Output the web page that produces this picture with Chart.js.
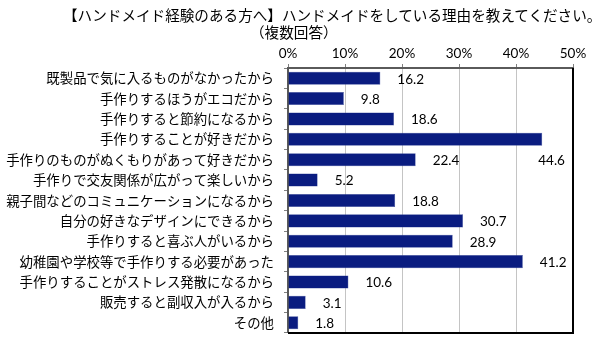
<!DOCTYPE html>
<html>
<head>
<meta charset="utf-8">
<script src="https://cdn.jsdelivr.net/npm/chart.js@4/dist/chart.umd.min.js"></script>
<style>
  body { margin: 0; background: #fff; }
  #wrap { position: relative; width: 600px; height: 351px; }
  .ttl { position: absolute; font-family: "Noto Sans CJK JP", sans-serif; font-size: 14.6px; line-height: 18px; color: #000; white-space: nowrap; }
  #title { left: 63px; top: 6px; }
  #sub { left: 250px; top: 23px; }
  canvas { position: absolute; left: 0; top: 0; }
</style>
</head>
<body>
<div id="wrap">
  <canvas id="chart" width="600" height="351"></canvas>
  <div class="ttl" id="title">【ハンドメイド経験のある方へ】ハンドメイドをしている理由を教えてください。</div>
  <div class="ttl" id="sub">（複数回答）</div>
</div>
<script>
// 理由（回答項目）
const reasons = [
    '既製品で気に入るものがなかったから',
    '手作りするほうがエコだから',
    '手作りすると節約になるから',
    '手作りすることが好きだから',
    '手作りのものがぬくもりがあって好きだから',
    '手作りで交友関係が広がって楽しいから',
    '親子間などのコミュニケーションになるから',
    '自分の好きなデザインにできるから',
    '手作りすると喜ぶ人がいるから',
    '幼稚園や学校等で手作りする必要があった',
    '手作りすることがストレス発散になるから',
    '販売すると副収入が入るから',
    'その他'
];
// 割合（%）
const percents = [16.2, 9.8, 18.6, 44.6, 22.4, 5.2, 18.8, 30.7, 28.9, 41.2, 10.6, 3.1, 1.8];
const axisTicks = [0, 10, 20, 30, 40, 50];

const barColor = '#0a1c80';
const jpFont = '"Noto Sans CJK JP", sans-serif';
const numFont = 'Lato, "Noto Sans CJK JP", sans-serif';

// 値ラベル（一番長いバーのラベルは元の図と同じく下の行にずらす）
const valueLabels = {
    id: 'valueLabels',
    afterDatasetsDraw(chart) {
        const ctx = chart.ctx;
        const meta = chart.getDatasetMeta(0);
        const maxIdx = percents.indexOf(Math.max(...percents));
        const rowH = chart.scales.y.getPixelForValue(1) - chart.scales.y.getPixelForValue(0);
        ctx.save();
        ctx.font = '13.5px ' + numFont;
        ctx.fillStyle = '#000';
        ctx.textBaseline = 'middle';
        ctx.textAlign = 'left';
        meta.data.forEach((bar, i) => {
            let x = bar.x + 17;
            let y = bar.y + 1;
            if (i === maxIdx) {
                x = bar.x - 4;
                y = bar.y + rowH + 1;
            }
            ctx.fillText(percents[i].toFixed(1), x, y);
        });
        ctx.restore();
    }
};

// 右と下の黒い枠線
const plotFrame = {
    id: 'plotFrame',
    afterDraw(chart) {
        const a = chart.chartArea;
        const ctx = chart.ctx;
        ctx.save();
        ctx.strokeStyle = '#000';
        ctx.lineWidth = 2;
        ctx.beginPath();
        ctx.moveTo(a.left, a.bottom);
        ctx.lineTo(a.right, a.bottom);
        ctx.lineTo(a.right, a.top);
        ctx.stroke();
        ctx.restore();
    }
};

new Chart(document.getElementById('chart'), {
    type: 'bar',
    data: {
        labels: reasons,
        datasets: [{
            data: percents,
            backgroundColor: barColor,
            borderColor: '#3a4a9a',
            borderWidth: 0.5,
            barPercentage: 0.8,
            categoryPercentage: 0.8
        }]
    },
    options: {
        indexAxis: 'y',
        responsive: false,
        animation: false,
        layout: { padding: { top: 40, right: 27, bottom: 11, left: 0 } },
        plugins: {
            legend: { display: false },
            tooltip: { enabled: false }
        },
        scales: {
            x: {
                position: 'top',
                min: axisTicks[0],
                max: axisTicks[axisTicks.length - 1],
                afterBuildTicks: s => { s.ticks = axisTicks.map(v => ({ value: v })); },
                afterFit: s => { s.height = 28; },
                ticks: {
                    padding: 2,
                    color: '#000',
                    font: { family: numFont, size: 13.5 },
                    callback: v => v + '%'
                },
                grid: { color: '#c4c4c4', tickColor: '#808080', tickLength: 4 },
                border: { color: '#5a5a5a', width: 2 }
            },
            y: {
                afterFit: s => { s.width = 288; },
                ticks: {
                    padding: 10,
                    color: '#000',
                    font: { family: jpFont, size: 13.4 },
                    autoSkip: false
                },
                grid: { drawOnChartArea: false, tickColor: '#808080', tickLength: 4 },
                border: { color: '#5a5a5a', width: 2 }
            }
        }
    },
    plugins: [valueLabels, plotFrame]
});
</script>
</body>
</html>
